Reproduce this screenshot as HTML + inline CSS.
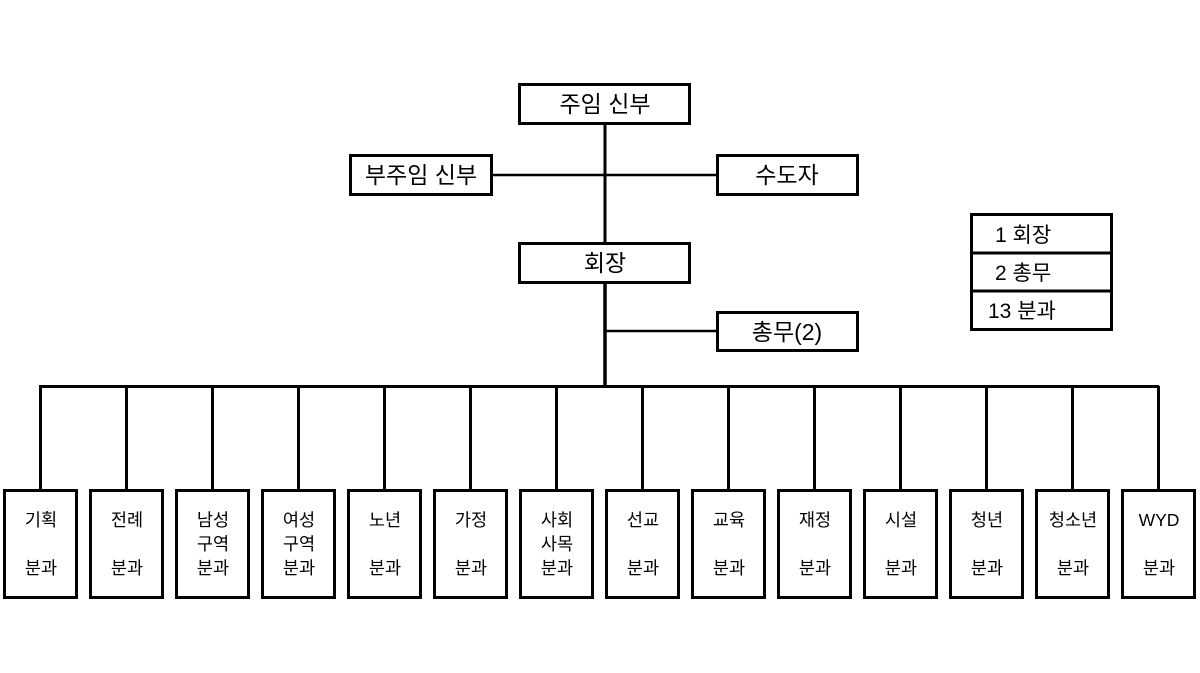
<!DOCTYPE html>
<html><head><meta charset="utf-8"><style>
html,body{margin:0;padding:0;background:#fff;}
svg{display:block;}
text{font-family:"Liberation Sans","Noto Sans CJK KR",sans-serif;fill:#000;}
</style></head><body>
<svg width="1200" height="673" viewBox="0 0 1200 673" xmlns="http://www.w3.org/2000/svg">
<g stroke="#000" fill="none">
<line x1="605" y1="124" x2="605" y2="243" stroke-width="3"/>
<line x1="492" y1="175" x2="717" y2="175" stroke-width="2.5"/>
<line x1="605" y1="283" x2="605" y2="388" stroke-width="3.5"/>
<line x1="605" y1="331" x2="717" y2="331" stroke-width="2.5"/>
<line x1="39" y1="386.5" x2="1159" y2="386.5" stroke-width="3"/>
<g stroke-width="3">
<rect x="519.5" y="84.5" width="170" height="39"/>
<rect x="350.5" y="155.5" width="141" height="39"/>
<rect x="717.5" y="155.5" width="140" height="39"/>
<rect x="519.5" y="243.5" width="170" height="39"/>
<rect x="717.5" y="312.5" width="140" height="38"/>
<rect x="971.5" y="214.5" width="140" height="115"/>
<line x1="971" y1="253" x2="1111" y2="253"/>
<line x1="971" y1="291" x2="1111" y2="291"/>
</g>
</g>
<g font-size="23" text-anchor="middle">
<text x="605" y="112">주임 신부</text>
<text x="421" y="183">부주임 신부</text>
<text x="787" y="183">수도자</text>
<text x="605" y="271">회장</text>
<text x="787" y="340">총무(2)</text>
</g>
<g font-size="21">
<text x="995" y="242">1 회장</text>
<text x="995" y="280">2 총무</text>
<text x="988" y="318">13 분과</text>
</g>
<g id="boxes" font-size="17.5" text-anchor="middle">
</g>
</svg>
<script>
var labels=[["기획","","분과"],["전례","","분과"],["남성","구역","분과"],["여성","구역","분과"],["노년","","분과"],["가정","","분과"],["사회","사목","분과"],["선교","","분과"],["교육","","분과"],["재정","","분과"],["시설","","분과"],["청년","","분과"],["청소년","","분과"],["WYD","","분과"]];
var g=document.getElementById("boxes"),h="";
for(var i=0;i<14;i++){var l=4+86*i,c=l+36;
h+='<line x1="'+(c+0.5)+'" y1="386" x2="'+(c+0.5)+'" y2="490" stroke="#000" stroke-width="3"/>';
h+='<rect x="'+(l+0.5)+'" y="490.5" width="72" height="107" fill="#fff" stroke="#000" stroke-width="3"/>';
var ys=[526,550,574];
for(var j=0;j<3;j++) if(labels[i][j]) h+='<text x="'+(c+1)+'" y="'+ys[j]+'">'+labels[i][j]+'</text>';}
g.innerHTML=h;
</script>
</body></html>
